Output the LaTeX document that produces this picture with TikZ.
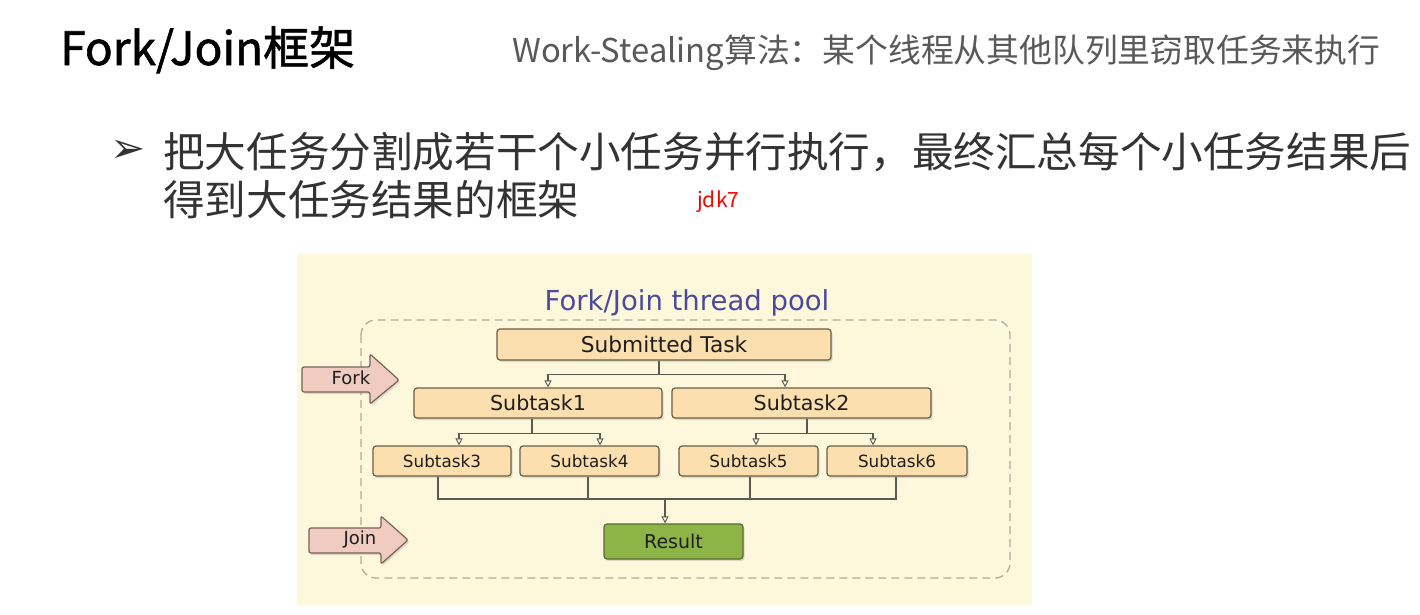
\documentclass[tikz,border=0pt]{standalone}
\usepackage{fontspec}
\setmainfont{DejaVu Sans}
\newfontfamily\cjk{Noto Sans CJK SC}
\newfontfamily\cjktitle{Noto Sans CJK SC}[FakeBold=1.3]
\newfontfamily\dejavu{DejaVu Sans}
\usetikzlibrary{arrows.meta,shadows}
\definecolor{bgyellow}{HTML}{FDF7DB}
\definecolor{taskfill}{HTML}{FBDFAE}
\definecolor{taskdraw}{HTML}{6B5C48}
\definecolor{resfill}{HTML}{8DB446}
\definecolor{resdraw}{HTML}{5A6B30}
\definecolor{arrfill}{HTML}{F0CBC0}
\definecolor{arrdraw}{HTML}{7A6058}
\definecolor{pooltitle}{HTML}{4B4B9B}
\definecolor{dashcol}{HTML}{B0ACA0}
\definecolor{conncol}{HTML}{5A5A55}
\definecolor{subgray}{HTML}{595959}
\definecolor{bodygray}{HTML}{333333}
\definecolor{boxtext}{HTML}{1E1E1E}
\tikzset{
  taskbox/.style={draw=taskdraw, fill=taskfill, line width=1.2pt, rounded corners=3pt,
    inner sep=0pt, text=boxtext,
    drop shadow={shadow xshift=1.5pt, shadow yshift=-2pt, opacity=0.25}},
  resbox/.style={draw=resdraw, fill=resfill, line width=1.2pt, rounded corners=3pt,
    inner sep=0pt, text=boxtext, font=\fontsize{19}{21}\selectfont,
    drop shadow={shadow xshift=1.5pt, shadow yshift=-2pt, opacity=0.25}},
  bigarrow/.style={draw=arrdraw, fill=arrfill, line width=1.2pt, rounded corners=2pt,
    drop shadow={shadow xshift=1.5pt, shadow yshift=-2pt, opacity=0.25}},
  arrlabel/.style={inner sep=0pt, text=boxtext, font=\fontsize{18}{20}\selectfont},
  conn/.style={draw=conncol, line width=1.1pt},
  connarr/.style={conn, -{Triangle[open, width=7pt, length=7pt, line width=0.9pt]}},
  lbl/.style={inner sep=0pt, anchor=base west},
}
\begin{document}
\begin{tikzpicture}[x=1pt, y=-1pt]
\useasboundingbox (0,0) rectangle (1420,614);
\fill[white] (0,0) rectangle (1420,614);

% slide texts
\node[lbl, text=black, font=\cjktitle\fontsize{46}{50}\selectfont] (title) at (60,65) {Fork/Join框架};
\node[lbl, text=subgray, font=\cjk\fontsize{32.8}{36}\selectfont] (subtitle) at (512,62) {Work-Stealing算法：某个线程从其他队列里窃取任务来执行};
\node[lbl, text=bodygray, font=\dejavu\fontsize{42}{46}\selectfont] (bullet) at (110,162) {➢};
\node[lbl, text=bodygray, font=\cjk\fontsize{41.6}{46}\selectfont] (line1) at (163,167) {把大任务分割成若干个小任务并行执行，最终汇总每个小任务结果后};
\node[lbl, text=bodygray, font=\cjk\fontsize{41.6}{46}\selectfont] (line2) at (163,215) {得到大任务结果的框架};
\node[lbl, text=red, font=\cjk\fontsize{21}{24}\selectfont] (jdk) at (697,207) {jdk7};

% diagram background
\fill[bgyellow] (297,254) rectangle (1032,605);
\node[inner sep=0pt, anchor=base, text=pooltitle, font=\fontsize{27.5}{30}\selectfont] (pool) at (687,310) {Fork/Join thread pool};
\draw[dashcol, line width=1.3pt, dash pattern=on 8pt off 5pt, rounded corners=15pt] (361,320) rectangle (1010,578);

% Fork / Join arrows
\draw[bigarrow] (302,367) -- (370,367) -- (370,354) -- (399,380) -- (370,404) -- (370,392) -- (302,392) -- cycle;
\node[arrlabel] (fork) at (351,378) {Fork};
\draw[bigarrow] (309,528) -- (381,528) -- (381,516) -- (408,540) -- (381,564) -- (381,553) -- (309,553) -- cycle;
\node[arrlabel] (join) at (360,539) {Join};

% task boxes
\node[taskbox, minimum width=334pt, minimum height=31pt, font=\fontsize{21.7}{23}\selectfont] (st) at (664,344.5) {Submitted Task};
\node[taskbox, minimum width=248pt, minimum height=30pt, font=\fontsize{20.6}{22}\selectfont] (s1) at (538,403) {Subtask1};
\node[taskbox, minimum width=259pt, minimum height=30pt, font=\fontsize{20.6}{22}\selectfont] (s2) at (801.5,403) {Subtask2};
\node[taskbox, minimum width=138pt, minimum height=30pt, font=\fontsize{16.8}{18}\selectfont] (s3) at (442,461) {Subtask3};
\node[taskbox, minimum width=139pt, minimum height=30pt, font=\fontsize{16.8}{18}\selectfont] (s4) at (589.5,461) {Subtask4};
\node[taskbox, minimum width=139pt, minimum height=30pt, font=\fontsize{16.8}{18}\selectfont] (s5) at (748.5,461) {Subtask5};
\node[taskbox, minimum width=140pt, minimum height=30pt, font=\fontsize{16.8}{18}\selectfont] (s6) at (897,461) {Subtask6};
\node[resbox, minimum width=139pt, minimum height=35pt] (res) at (673.5,541.5) {Result};

% fork connectors
\draw[connarr] ([xshift=-5pt]st.south) -- ++(0,14) -| ([xshift=10pt]s1.north);
\draw[connarr] ([xshift=-5pt]st.south) -- ++(0,14) -| ([xshift=-16.5pt]s2.north);
\draw[connarr] ([xshift=-6pt]s1.south) -- ++(0,15) -| ([xshift=17pt]s3.north);
\draw[connarr] ([xshift=-6pt]s1.south) -- ++(0,15) -| ([xshift=10.5pt]s4.north);
\draw[connarr] ([xshift=5.5pt]s2.south) -- ++(0,15) -| ([xshift=7.5pt]s5.north);
\draw[connarr] ([xshift=5.5pt]s2.south) -- ++(0,15) -| ([xshift=-24pt]s6.north);

% join connectors
\coordinate (jn) at (665,499);
\draw[conn] ([xshift=-4pt]s3.south) |- (jn);
\draw[conn] ([xshift=-1.5pt]s4.south) |- (jn);
\draw[conn] ([xshift=1.5pt]s5.south) |- (jn);
\draw[conn] ([xshift=-1pt]s6.south) |- (jn);
\draw[connarr] (jn) -- ([xshift=-8.5pt]res.north);
\end{tikzpicture}
\end{document}
